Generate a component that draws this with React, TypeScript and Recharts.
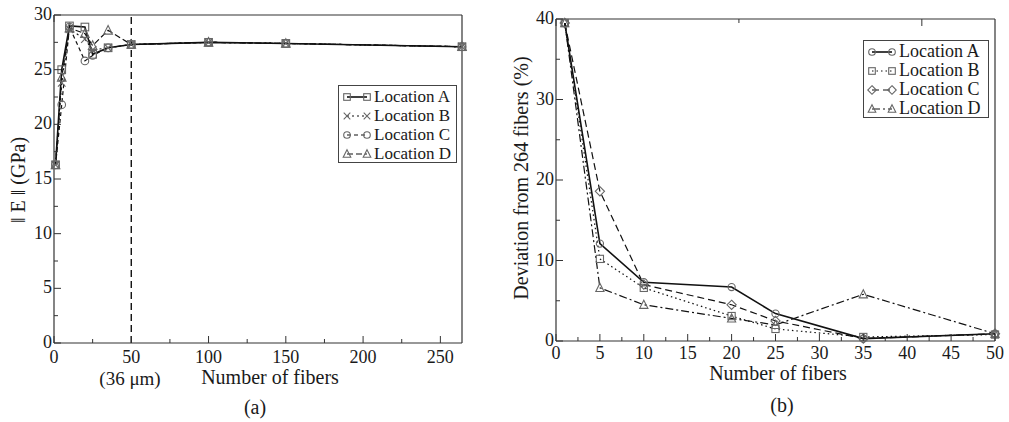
import { LineChart, Line, XAxis, YAxis, ReferenceLine } from 'recharts'

const FONT = '"Liberation Serif", "DejaVu Serif", serif'
const INK = '#1a1a1a'
const MARK = '#666'

// ---- (a) modulus norm vs. number of fibers ----
const fibersA = [1, 5, 10, 20, 25, 35, 50, 100, 150, 264]
const normLocA = [16.3, 25.0, 29.0, 28.9, 26.4, 27.0, 27.3, 27.5, 27.4, 27.1]
const normLocB = [16.3, 23.8, 28.7, 27.8, 26.8, 27.0, 27.3, 27.5, 27.4, 27.1]
const normLocC = [16.3, 21.8, 28.9, 25.8, 26.3, 27.0, 27.3, 27.5, 27.4, 27.1]
const normLocD = [16.3, 24.3, 28.8, 28.3, 27.2, 28.6, 27.3, 27.5, 27.4, 27.1]
const xTicksA = [0, 25, 50, 75, 100, 125, 150, 175, 200, 225, 250]
const yTicksA = [0, 2.5, 5, 7.5, 10, 12.5, 15, 17.5, 20, 22.5, 25, 27.5, 30]
const rveSize = 50

// ---- (b) deviation from the 264-fiber result ----
const fibersB = [1, 5, 10, 20, 25, 35, 50]
const devLocA = [39.5, 12.1, 7.3, 6.7, 3.4, 0.3, 0.9]
const devLocB = [39.5, 10.2, 6.6, 3.1, 1.5, 0.5, 0.8]
const devLocC = [39.5, 18.6, 7.0, 4.5, 2.5, 0.3, 0.9]
const devLocD = [39.5, 6.6, 4.5, 2.8, 2.0, 5.8, 0.9]
const xTicksB = [0, 2.5, 5, 7.5, 10, 12.5, 15, 17.5, 20, 22.5, 25, 27.5, 30, 32.5, 35, 37.5, 40, 42.5, 45, 47.5, 50]
const yTicksB = [0, 5, 10, 15, 20, 25, 30, 35, 40]

const locations = ['Location A', 'Location B', 'Location C', 'Location D']

type Shape = 'square' | 'cross' | 'circle' | 'diamond' | 'triangle'

interface SeriesStyle {
  key: string
  shape: Shape
  dash?: string
  width: number
}

const stylesA: SeriesStyle[] = [
  { key: 'a', shape: 'square', width: 1.6 },
  { key: 'b', shape: 'cross', dash: '2 3', width: 1.2 },
  { key: 'c', shape: 'circle', dash: '4 3', width: 1.2 },
  { key: 'd', shape: 'triangle', dash: '6 3', width: 1.2 },
]

const stylesB: SeriesStyle[] = [
  { key: 'a', shape: 'circle', width: 1.6 },
  { key: 'b', shape: 'square', dash: '1.5 3', width: 1.2 },
  { key: 'c', shape: 'diamond', dash: '7 4', width: 1.2 },
  { key: 'd', shape: 'triangle', dash: '8 3 2 3', width: 1.2 },
]

const rowsA = fibersA.map((n, i) => ({
  n,
  a: normLocA[i],
  b: normLocB[i],
  c: normLocC[i],
  d: normLocD[i],
}))

const rowsB = fibersB.map((n, i) => ({
  n,
  a: devLocA[i],
  b: devLocB[i],
  c: devLocC[i],
  d: devLocD[i],
}))

function Marker({ cx, cy, shape, s = 3.8 }: { cx: number; cy: number; shape: Shape; s?: number }) {
  const p = { fill: 'none', stroke: MARK, strokeWidth: 1.1 }
  switch (shape) {
    case 'square':
      return <rect x={cx - s} y={cy - s} width={2 * s} height={2 * s} {...p} />
    case 'circle':
      return <circle cx={cx} cy={cy} r={s} {...p} />
    case 'diamond':
      return <polygon points={`${cx},${cy - s - 1} ${cx + s + 1},${cy} ${cx},${cy + s + 1} ${cx - s - 1},${cy}`} {...p} />
    case 'triangle':
      return <polygon points={`${cx},${cy - s - 1} ${cx + s + 0.5},${cy + s} ${cx - s - 0.5},${cy + s}`} {...p} />
    default:
      return (
        <path d={`M${cx - s},${cy - s}L${cx + s},${cy + s}M${cx - s},${cy + s}L${cx + s},${cy - s}`} {...p} />
      )
  }
}

type Side = 'bottom' | 'top' | 'left' | 'right'

interface FrameTickProps {
  x?: number
  y?: number
  payload?: { value: number }
  side: Side
  major: number
  labels?: boolean
  dy?: number
}

// ticks point into the plot; only major ticks on bottom/left carry numbers
function FrameTick({ x = 0, y = 0, payload, side, major, labels, dy = 0 }: FrameTickProps) {
  const v = payload?.value ?? 0
  const isMajor = Math.abs(v / major - Math.round(v / major)) < 1e-6
  const len = isMajor ? 7 : 4
  let line
  if (side === 'bottom') line = <line x1={x} x2={x} y1={y} y2={y - len} />
  else if (side === 'top') line = <line x1={x} x2={x} y1={y} y2={y + len} />
  else if (side === 'left') line = <line x1={x} x2={x + len} y1={y} y2={y} />
  else line = <line x1={x} x2={x - len} y1={y} y2={y} />
  return (
    <g>
      <g stroke="#333" strokeWidth={1}>{line}</g>
      {labels && isMajor && side === 'bottom' && (
        <text x={x} y={y + 20 + dy} textAnchor="middle" fontFamily={FONT} fontSize={18} fill={INK}>
          {v}
        </text>
      )}
      {labels && isMajor && side === 'left' && (
        <text x={x - 2} y={y + 5} textAnchor="end" fontFamily={FONT} fontSize={18} fill={INK}>
          {v}
        </text>
      )}
    </g>
  )
}

// four-sided frame: labelled bottom/left axes plus bare mirror axes on top/right
function frameAxes(
  domainX: [number, number],
  ticksX: number[],
  majorX: number,
  domainY: [number, number],
  ticksY: number[],
  majorY: number,
  dy: number,
) {
  const axisLine = { stroke: '#333', strokeWidth: 1.2 }
  return [
    <XAxis
      key="xb"
      dataKey="n"
      type="number"
      domain={domainX}
      ticks={ticksX}
      interval={0}
      height={1}
      tickSize={0}
      tickMargin={0}
      tickLine={false}
      axisLine={axisLine}
      tick={(p: any) => <FrameTick {...p} side="bottom" major={majorX} labels dy={dy} />}
    />,
    <XAxis
      key="xt"
      xAxisId="top"
      orientation="top"
      type="number"
      domain={domainX}
      ticks={ticksX}
      interval={0}
      height={1}
      tickSize={0}
      tickMargin={0}
      tickLine={false}
      axisLine={axisLine}
      tick={(p: any) => <FrameTick {...p} side="top" major={majorX} />}
    />,
    <YAxis
      key="yl"
      type="number"
      domain={domainY}
      ticks={ticksY}
      interval={0}
      width={1}
      tickSize={0}
      tickMargin={0}
      tickLine={false}
      axisLine={axisLine}
      tick={(p: any) => <FrameTick {...p} side="left" major={majorY} labels />}
    />,
    <YAxis
      key="yr"
      yAxisId="right"
      orientation="right"
      type="number"
      domain={domainY}
      ticks={ticksY}
      interval={0}
      width={1}
      tickSize={0}
      tickMargin={0}
      tickLine={false}
      axisLine={axisLine}
      tick={(p: any) => <FrameTick {...p} side="right" major={majorY} />}
    />,
  ]
}

function seriesLines(styles: SeriesStyle[], size: number) {
  return styles.map((st) => (
    <Line
      key={st.key}
      dataKey={st.key}
      type="linear"
      stroke="#111"
      strokeWidth={st.width}
      strokeDasharray={st.dash}
      isAnimationActive={false}
      dot={(p: any) => <Marker key={`${st.key}-${p.index}`} cx={p.cx} cy={p.cy} shape={st.shape} s={size} />}
      activeDot={false}
    />
  ))
}

function LegendBox({
  styles,
  left,
  top,
  width,
  size,
}: {
  styles: SeriesStyle[]
  left: number
  top: number
  width: number
  size: number
}) {
  return (
    <div
      style={{
        position: 'absolute',
        left,
        top,
        width,
        height: 78,
        boxSizing: 'border-box',
        border: '1px solid #444',
        background: '#fff',
        padding: '1px 3px',
        fontFamily: FONT,
        fontSize: size,
        color: INK,
      }}
    >
      {styles.map((st, i) => (
        <div key={st.key} style={{ display: 'flex', alignItems: 'center', height: 19, whiteSpace: 'nowrap' }}>
          <svg width={30} height={14} style={{ marginRight: 2 }}>
            <line x1={5} x2={25} y1={7} y2={7} stroke="#111" strokeWidth={st.width} strokeDasharray={st.dash} />
            <Marker cx={5} cy={7} shape={st.shape} s={3.3} />
            <Marker cx={25} cy={7} shape={st.shape} s={3.3} />
          </svg>
          <span>{locations[i]}</span>
        </div>
      ))}
    </div>
  )
}

function Centered({ x, y, rotate, size = 20, children }: { x: number; y: number; rotate?: boolean; size?: number; children: any }) {
  return (
    <div
      style={{
        position: 'absolute',
        fontFamily: FONT,
        color: INK,
        whiteSpace: 'nowrap',
        fontSize: size,
        lineHeight: 1,
        left: x,
        top: y,
        transform: `translate(-50%, -50%)${rotate ? ' rotate(-90deg)' : ''}`,
      }}
    >
      {children}
    </div>
  )
}

export default function App() {
  return (
    <div style={{ position: 'absolute', left: 0, top: 0, width: 1009, height: 422, background: '#fff', overflow: 'hidden' }}>
      <div style={{ position: 'absolute', left: 0, top: 0 }}>
        <LineChart width={500} height={422} data={rowsA} margin={{ top: 14, right: 37, bottom: 78, left: 53 }}>
          {frameAxes([0, 264], xTicksA, 50, [0, 30], yTicksA, 5, 0)}
          <ReferenceLine x={rveSize} stroke="#111" strokeWidth={1.4} strokeDasharray="7 4" />
          {seriesLines(stylesA, 3.8)}
        </LineChart>
      </div>
      <div style={{ position: 'absolute', left: 500, top: 0 }}>
        <LineChart width={509} height={422} data={rowsB} margin={{ top: 18, right: 13, bottom: 80, left: 55 }}>
          {frameAxes([0, 50], xTicksB, 5, [0, 40], yTicksB, 10, -2)}
          {seriesLines(stylesB, 3.6)}
        </LineChart>
      </div>

      <LegendBox styles={stylesA} left={338} top={85} width={119} size={17} />
      <LegendBox styles={stylesB} left={863} top={40} width={126} size={18} />

      <Centered x={18} y={180} rotate>‖ E ‖ (GPa)</Centered>
      <Centered x={130} y={378} size={19}>(36 μm)</Centered>
      <Centered x={270} y={377}>Number of fibers</Centered>
      <Centered x={255} y={407}>(a)</Centered>

      <Centered x={521} y={178} rotate>Deviation from 264 fibers (%)</Centered>
      <Centered x={778} y={373}>Number of fibers</Centered>
      <Centered x={782} y={405}>(b)</Centered>
    </div>
  )
}
